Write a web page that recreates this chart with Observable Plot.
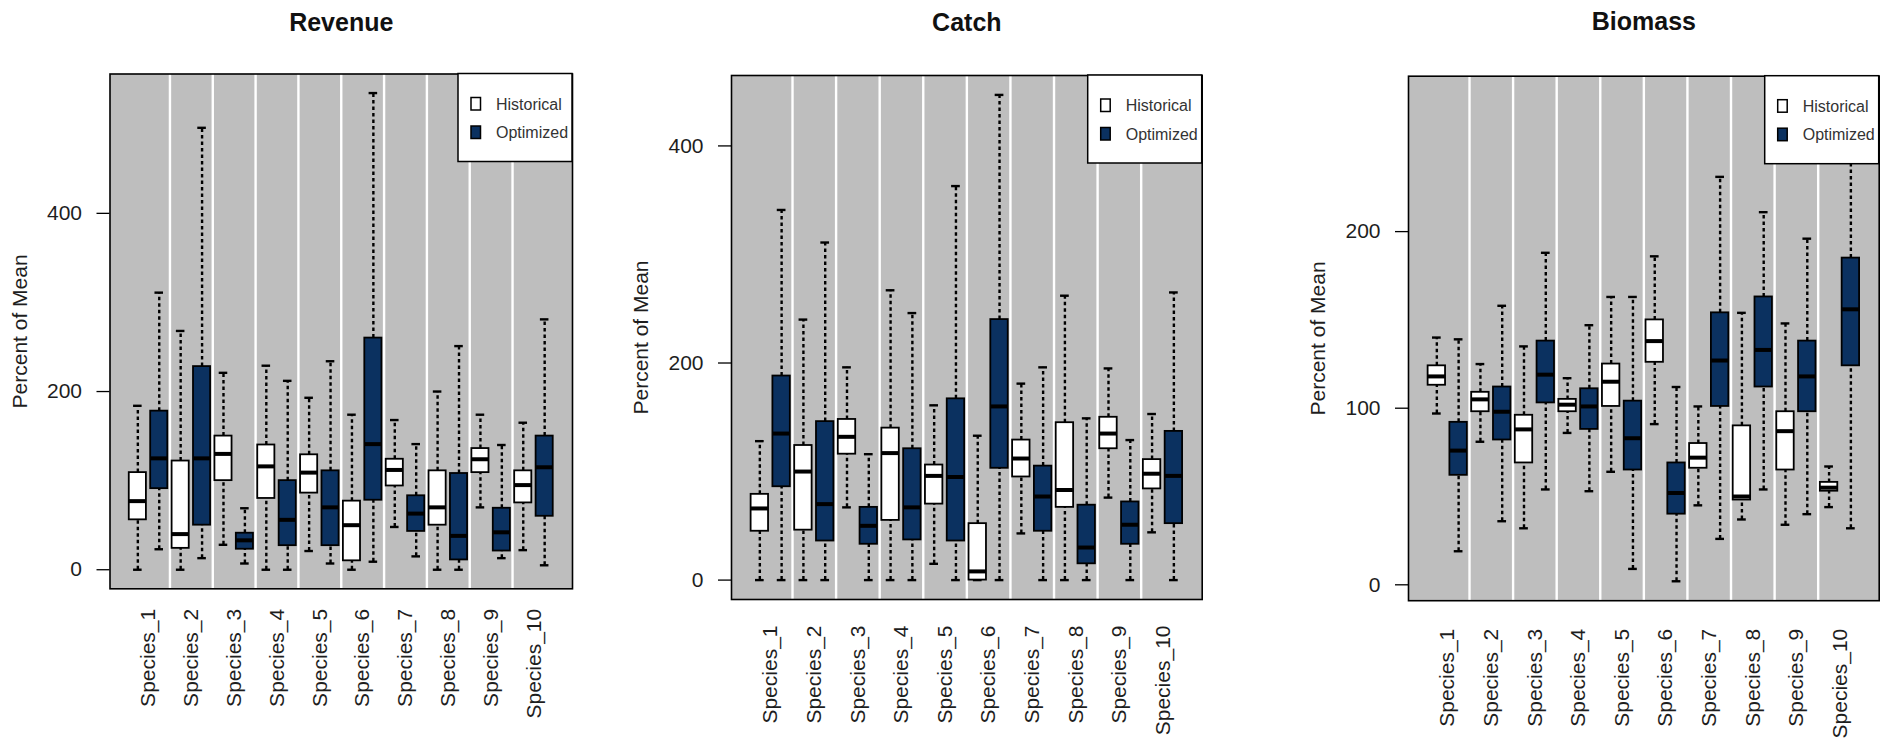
<!DOCTYPE html>
<html><head><meta charset="utf-8">
<script src="https://cdn.jsdelivr.net/npm/d3@7"></script>
<script src="https://cdn.jsdelivr.net/npm/@observablehq/plot@0.6"></script>
<style>
html,body{margin:0;padding:0;background:#fff;overflow:hidden}
#wrap{position:relative;width:1890px;height:741px;background:#fff}
.panel{position:absolute;top:0}
</style></head><body><div id="wrap"></div>
<script>
const species = ["Species_1","Species_2","Species_3","Species_4","Species_5","Species_6","Species_7","Species_8","Species_9","Species_10"];
const groups = ["Historical","Optimized"];
const groupColors = ["#ffffff","#0b3160"];
const panelTitles = ["Revenue","Catch","Biomass"];
const yAxisLabel = "Percent of Mean";
const revenueTicks = [0,200,400];
const catchTicks = [0,200,400];
const biomassTicks = [0,100,200];

// five-number summaries per species: [lower whisker, Q1, median, Q3, upper whisker]
const revenueHistorical = [
 [0,56,77,109,184],[0,24,40,122,268],[28,100,130,150,221],[0,80,116,140,229],[21,86,109,129,193],
 [0,10,50,77,174],[48,94,112,124,168],[0,50,70,111,200],[70,109,124,136,174],[22,75,95,111,165]];
const revenueOptimized = [
 [23,91,125,178,311],[13,50,125,228,496],[7,23,33,41,69],[0,27,56,100,212],[7,27,70,111,234],
 [9,78,141,260,535],[15,43,63,83,141],[0,11,38,108,251],[13,21,42,69,140],[5,60,115,150,281]];
const catchHistorical = [
 [0,45,66,79,128],[0,46,100,124,240],[67,116,132,148,196],[0,55,117,140,267],[15,70,96,106,161],
 [0,0,8,52,133],[43,95,112,129,181],[0,67,83,145,262],[76,121,135,150,195],[44,84,98,111,153]];
const catchOptimized = [
 [0,86,135,188,341],[0,36,70,146,311],[0,33,50,67,116],[0,37,67,121,246],[0,36,95,167,363],
 [0,103,160,240,447],[0,45,77,105,196],[0,15,30,69,149],[0,33,51,72,129],[0,52,96,137,265]];
const biomassHistorical = [
 [97,113,118,124,140],[81,98,105,109,125],[32,69,88,96,135],[86,98,102,105,117],[64,101,115,125,163],
 [91,126,138,150,186],[45,66,72,80,101],[37,48,50,90,154],[34,65,87,98,148],[44,53,55,58,67]];
const biomassOptimized = [
 [19,62,76,92,139],[36,82,98,112,158],[54,103,119,138,188],[53,88,101,111,147],[9,65,83,104,163],
 [2,40,52,69,112],[26,101,127,154,231],[54,112,133,163,211],[40,98,118,138,196],[32,124,156,185,277]];

function buildRows(hist, opt) {
  const out = [];
  species.forEach((s, i) => {
    [hist[i], opt[i]].forEach((v, g) => {
      out.push({species: s, group: groups[g], pos: 2 * i + 1 + g,
        lo: v[0], q1: v[1], med: v[2], q3: v[3], hi: v[4]});
    });
  });
  return out;
}

const panels = [
  {title: panelTitles[0], hist: revenueHistorical, opt: revenueOptimized, ticks: revenueTicks,
   left: 0, ml: 109.5, mr: 58, mt: 73.5, mb: 152.7, labelPad: 20},
  {title: panelTitles[1], hist: catchHistorical, opt: catchOptimized, ticks: catchTicks,
   left: 630, ml: 101, mr: 58.3, mt: 75, mb: 142, labelPad: 26},
  {title: panelTitles[2], hist: biomassHistorical, opt: biomassOptimized, ticks: biomassTicks,
   left: 1260, ml: 148, mr: 11.3, mt: 75.7, mb: 140.8, labelPad: 28}
];

const n = species.length * 2;
const xDomain = [0.5 - 0.04 * n, n + 0.5 + 0.04 * n];
const separators = d3.range(1, species.length).map(i => 2 * i + 0.5);
const labelPos = species.map((s, i) => 2 * i + 1.5);
const font = "'Liberation Sans', Arial, Helvetica, sans-serif";
const dash = "3.5,3";

const wrap = document.getElementById("wrap");
panels.forEach(p => {
  const data = buildRows(p.hist, p.opt);
  const [mn, mx] = d3.extent(data.flatMap(d => [d.lo, d.hi]));
  const pad = 0.04 * (mx - mn);
  const W = 630, H = 741;
  const svg = Plot.plot({
    width: W, height: H,
    marginLeft: p.ml, marginRight: p.mr, marginTop: p.mt, marginBottom: p.mb,
    x: {domain: xDomain, axis: null},
    y: {domain: [mn - pad, mx + pad], axis: null},
    color: {domain: groups, range: groupColors},
    style: {fontFamily: font, fontSize: "21px", color: "#1e1e1e", background: "transparent", overflow: "visible"},
    marks: [
      Plot.frame({fill: "#bebebe"}),
      Plot.ruleX(separators, {stroke: "#ffffff", strokeWidth: 2.4}),
      Plot.ruleX(data, {x: "pos", y1: "q3", y2: "hi", stroke: "#000", strokeWidth: 2.4, strokeDasharray: dash}),
      Plot.ruleX(data, {x: "pos", y1: "lo", y2: "q1", stroke: "#000", strokeWidth: 2.4, strokeDasharray: dash}),
      Plot.ruleY(data, {y: "hi", x1: d => d.pos - 0.2, x2: d => d.pos + 0.2, stroke: "#000", strokeWidth: 2.4}),
      Plot.ruleY(data, {y: "lo", x1: d => d.pos - 0.2, x2: d => d.pos + 0.2, stroke: "#000", strokeWidth: 2.4}),
      Plot.rect(data, {x1: d => d.pos - 0.4, x2: d => d.pos + 0.4, y1: "q1", y2: "q3", fill: "group", stroke: "#000", strokeWidth: 1.8}),
      Plot.ruleY(data, {y: "med", x1: d => d.pos - 0.4, x2: d => d.pos + 0.4, stroke: "#000", strokeWidth: 4}),
      Plot.axisY({ticks: p.ticks, tickSize: 13, tickPadding: 15, label: null, fontSize: 21, stroke: "#000", strokeWidth: 1.3}),
      Plot.axisX({ticks: labelPos, tickFormat: d => species[Math.round((d - 1.5) / 2)], tickRotate: -90,
        tickSize: 0, tickPadding: p.labelPad, label: null, fontSize: 21}),
      Plot.text([p.title], {frameAnchor: "top", lineAnchor: "middle", dy: 22 - p.mt, fontSize: 25, fontWeight: "bold", fill: "#111"}),
      Plot.text([yAxisLabel], {frameAnchor: "left", textAnchor: "middle", lineAnchor: "middle", dx: -90, rotate: -90, fontSize: 21, fill: "#1e1e1e"}),
      Plot.frame({stroke: "#000", strokeWidth: 1.6})
    ]
  });
  // legend box in the top-right corner of the plot frame
  const right = W - p.mr, top = p.mt, lw = 114, lh = 88;
  const g = d3.select(svg).append("g").attr("font-family", font).attr("text-anchor", "start");
  g.append("rect").attr("x", right - lw).attr("y", top).attr("width", lw).attr("height", lh)
    .attr("fill", "#fff").attr("stroke", "#000").attr("stroke-width", 1.5);
  groups.forEach((name, i) => {
    g.append("rect").attr("x", right - lw + 13).attr("y", top + 24 + i * 28.5)
      .attr("width", 9.5).attr("height", 12.5).attr("fill", groupColors[i])
      .attr("stroke", "#000").attr("stroke-width", 1.5);
    g.append("text").attr("x", right - lw + 38).attr("y", top + 30.5 + i * 28.5)
      .attr("dy", "0.35em").attr("font-size", 16).attr("text-anchor", "start")
      .attr("fill", "#333").text(name);
  });
  const div = document.createElement("div");
  div.className = "panel";
  div.style.left = p.left + "px";
  div.appendChild(svg);
  wrap.appendChild(div);
});
</script></body></html>
